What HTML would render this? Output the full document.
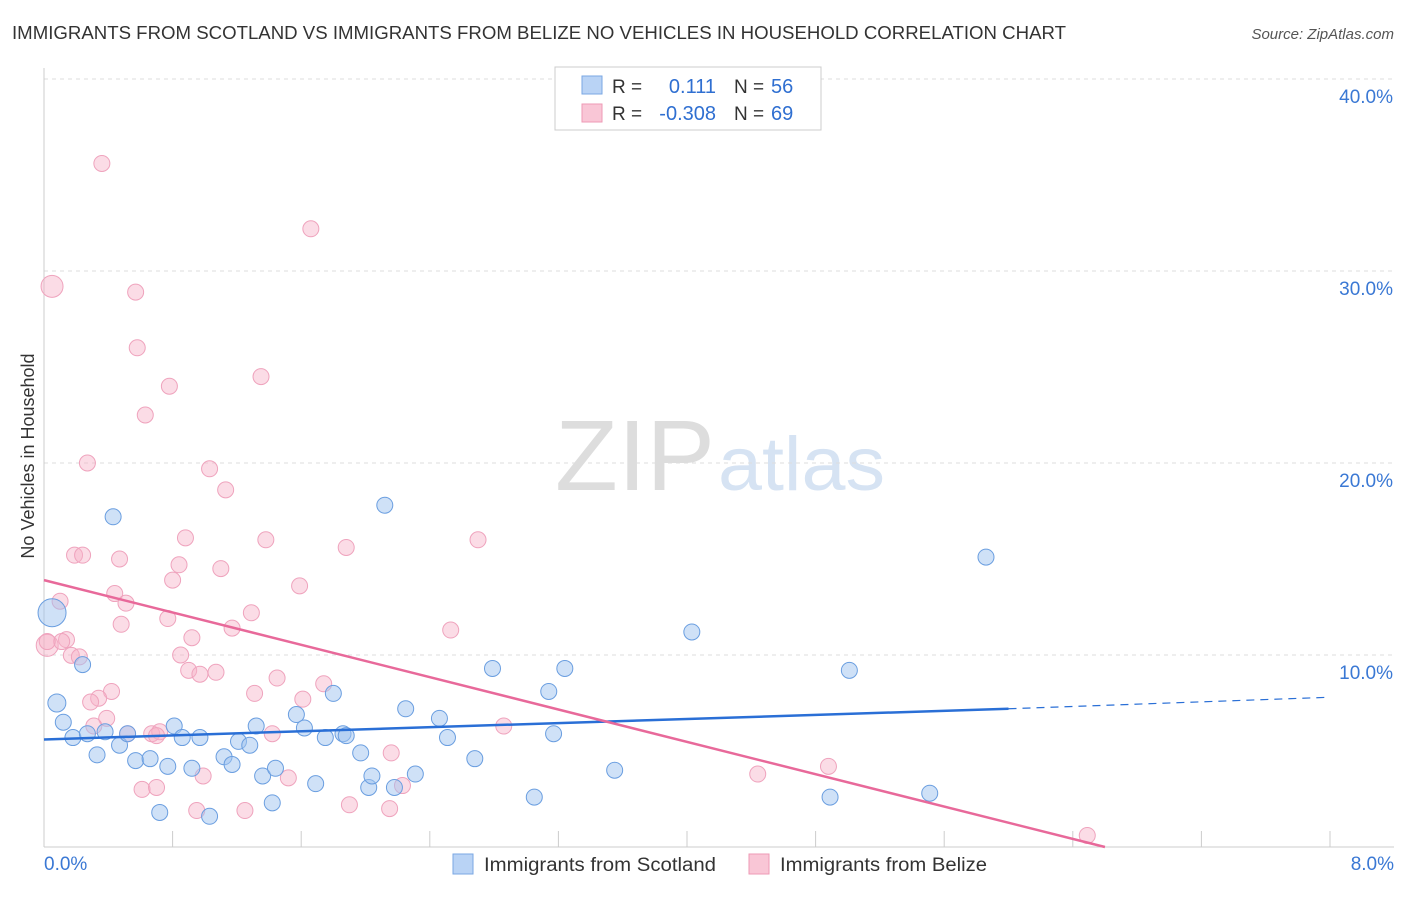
<!DOCTYPE html>
<html><head><meta charset="utf-8"><style>
body{margin:0;background:#fff;font-family:"Liberation Sans",sans-serif;}
svg text{font-family:"Liberation Sans",sans-serif;}
</style></head><body>
<svg id="c" width="1406" height="892">
<text x="12" y="39" font-size="18" fill="#333" textLength="1054" lengthAdjust="spacingAndGlyphs">IMMIGRANTS FROM SCOTLAND VS IMMIGRANTS FROM BELIZE NO VEHICLES IN HOUSEHOLD CORRELATION CHART</text>
<text x="1394" y="39" font-size="15" fill="#555" text-anchor="end" font-style="italic">Source: ZipAtlas.com</text>
<text x="34" y="456" font-size="18" fill="#333" text-anchor="middle" transform="rotate(-90 34 456)">No Vehicles in Household</text>
<g><text x="555" y="490" font-size="100" fill="#ddd" textLength="160" lengthAdjust="spacingAndGlyphs" font-family="Liberation Serif">ZIP</text><text x="718" y="490" font-size="76" fill="#d6e3f3" textLength="167" lengthAdjust="spacingAndGlyphs">atlas</text></g>
<g id="grid"></g><g id="marks"></g>
<g>
<rect x="555" y="67" width="266" height="63" fill="#fff" stroke="#ccc"/>
<rect x="582" y="76" width="20" height="18" fill="#b9d3f5" stroke="#7aa7e3"/>
<rect x="582" y="104" width="20" height="18" fill="#f9c6d6" stroke="#ee9ab5"/>
<text x="612" y="93" font-size="19" fill="#333">R =</text><text x="716" y="93" font-size="20" fill="#2f6fd1" text-anchor="end">0.111</text>
<text x="734" y="93" font-size="19" fill="#333">N =</text><text x="771" y="93" font-size="20" fill="#2f6fd1">56</text>
<text x="612" y="120" font-size="19" fill="#333">R =</text><text x="716" y="120" font-size="20" fill="#2f6fd1" text-anchor="end">-0.308</text>
<text x="734" y="120" font-size="19" fill="#333">N =</text><text x="771" y="120" font-size="20" fill="#2f6fd1">69</text>
</g>
<g>
<rect x="453" y="854" width="20" height="20" fill="#b9d3f5" stroke="#7aa7e3"/>
<text x="484" y="871" font-size="19" fill="#333" textLength="232" lengthAdjust="spacingAndGlyphs">Immigrants from Scotland</text>
<rect x="749" y="854" width="20" height="20" fill="#f9c6d6" stroke="#ee9ab5"/>
<text x="780" y="871" font-size="19" fill="#333" textLength="207" lengthAdjust="spacingAndGlyphs">Immigrants from Belize</text>
</g>
</svg>
<script>
const blueX=[0.05,0.08,0.12,0.18,0.24,0.27,0.33,0.38,0.43,0.47,0.52,0.57,0.66,0.72,0.77,0.81,0.86,0.92,0.97,1.03,1.12,1.17,1.21,1.28,1.32,1.36,1.42,1.44,1.57,1.62,1.69,1.75,1.80,1.86,1.88,1.97,2.02,2.04,2.12,2.18,2.25,2.31,2.46,2.51,2.68,2.79,3.05,3.14,3.17,3.24,3.55,4.03,4.89,5.01,5.51,5.86];
const blueY=[12.2,7.5,6.5,5.7,9.5,5.9,4.8,6.0,17.2,5.3,5.9,4.5,4.6,1.8,4.2,6.3,5.7,4.1,5.7,1.6,4.7,4.3,5.5,5.3,6.3,3.7,2.3,4.1,6.9,6.2,3.3,5.7,8.0,5.9,5.8,4.9,3.1,3.7,17.8,3.1,7.2,3.8,6.7,5.7,4.6,9.3,2.6,8.1,5.9,9.3,4.0,11.2,2.6,9.2,2.8,15.1];
const blueR=[14,9,8,8,8,8,8,8,8,8,8,8,8,8,8,8,8,8,8,8,8,8,8,8,8,8,8,8,8,8,8,8,8,8,8,8,8,8,8,8,8,8,8,8,8,8,8,8,8,8,8,8,8,8,8,8];
const pinkX=[0.05,0.02,0.36,1.66,0.57,0.58,1.35,0.78,0.63,0.27,1.03,1.13,0.88,1.38,1.88,2.70,0.19,0.24,0.47,0.84,1.10,0.80,1.59,0.10,0.44,0.51,0.77,1.29,0.48,1.17,2.53,0.14,0.11,0.92,0.02,0.85,0.17,0.22,0.90,1.07,0.97,1.45,0.42,1.31,1.74,0.34,0.29,1.61,0.39,0.31,0.67,1.42,0.52,0.72,0.70,2.86,2.16,0.99,1.52,0.61,0.70,4.44,4.88,1.90,0.95,1.25,2.15,2.23,6.49];
const pinkY=[29.2,10.5,35.6,32.2,28.9,26.0,24.5,24.0,22.5,20.0,19.7,18.6,16.1,16.0,15.6,16.0,15.2,15.2,15.0,14.7,14.5,13.9,13.6,12.8,13.2,12.7,11.9,12.2,11.6,11.4,11.3,10.8,10.7,10.9,10.7,10.0,9.98,9.9,9.2,9.1,9.0,8.8,8.1,8.0,8.5,7.75,7.55,7.7,6.7,6.3,5.9,5.9,5.9,6.0,5.8,6.3,4.9,3.7,3.6,3.0,3.1,3.8,4.2,2.2,1.9,1.9,2.0,3.2,0.6];
const xT=v=>44+v*160.75, yT=v=>847-v*19.2;
const NS='http://www.w3.org/2000/svg';
function mk(t,a,p){const e=document.createElementNS(NS,t);for(const k in a)e.setAttribute(k,a[k]);p.appendChild(e);return e;}
const g=document.getElementById('grid'), m=document.getElementById('marks');
[10,20,30,40].forEach(v=>{const l=mk('line',{x1:44,x2:1394,y1:yT(v),y2:yT(v),stroke:'#ddd','stroke-dasharray':'4 4'},g);


const t=mk('text',{x:1393,y:yT(v)+24,'font-size':19,fill:'#3a78d4','text-anchor':'end'},g);t.textContent=v.toFixed(1)+'%';

});
mk('line',{x1:44,x2:44,y1:68,y2:847,stroke:'#ccc'},g);
mk('line',{x1:44,x2:1394,y1:847,y2:847,stroke:'#ccc'},g);
for(let i=0;i<=10;i++){const tk=mk('line',{x1:xT(i*0.8),x2:xT(i*0.8),y1:831,y2:847,stroke:'#ccc'},g);

}
[['0.0%',44,'start'],['8.0%',1394,'end']].forEach(a=>{const t=mk('text',{x:a[1],y:870,'font-size':19,fill:'#3a78d4','text-anchor':a[2]},g);t.textContent=a[0];

});
pinkX.forEach((x,i)=>{const c=mk('circle',{cx:xT(x),cy:yT(pinkY[i]),r:(i<2?11:8),fill:'rgba(246,178,200,0.45)',stroke:'#efa3bd','stroke-width':1},m);

});
blueX.forEach((x,i)=>{const c=mk('circle',{cx:xT(x),cy:yT(blueY[i]),r:blueR[i],fill:'rgba(160,195,240,0.5)',stroke:'#6a9ee0','stroke-width':1},m);

});
const bl=mk('line',{x1:xT(0),y1:yT(5.6),x2:xT(6.0),y2:yT(7.2),stroke:'#2a6fd6','stroke-width':2.5},m);


const bd=mk('line',{x1:xT(6.0),y1:yT(7.2),x2:xT(8.0),y2:yT(7.8),stroke:'#2a6fd6','stroke-width':1.2,'stroke-dasharray':'8 6'},m);


const pl=mk('line',{x1:xT(0),y1:yT(13.9),x2:xT(6.6),y2:yT(0),stroke:'#e8699a','stroke-width':2.5},m);


</script>
</body></html>
